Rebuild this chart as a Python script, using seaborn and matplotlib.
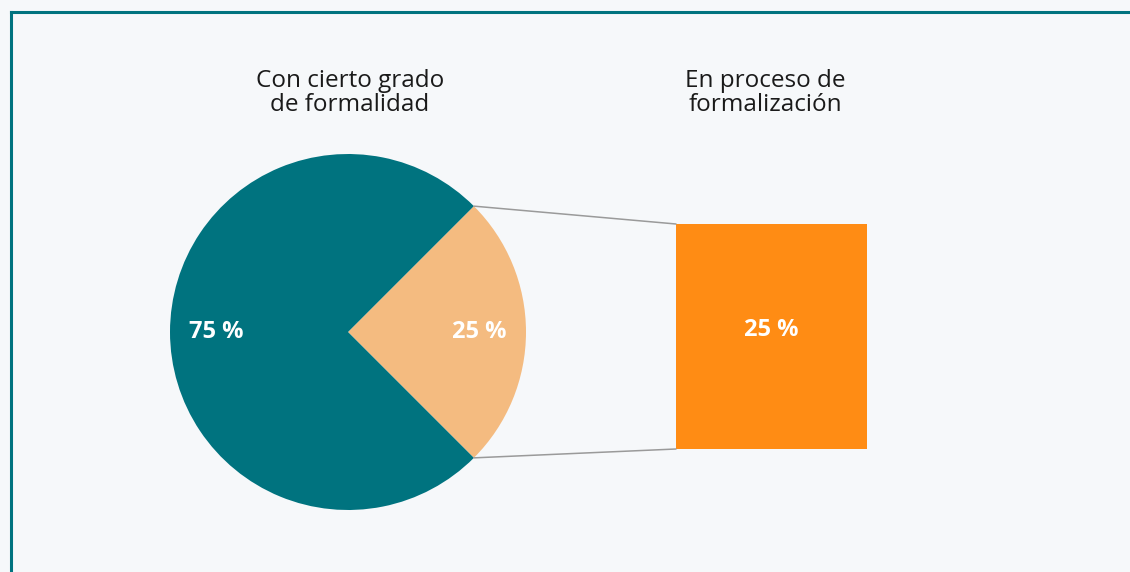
import matplotlib
matplotlib.use("Agg")
import matplotlib.pyplot as plt
from matplotlib.patches import ConnectionPatch
from matplotlib.lines import Line2D
import seaborn as sns
import pandas as pd
import numpy as np

# Data
pie_labels = ["25 %", "75 %"]
pie_values = [25, 75]
bar_category = ["En proceso de formalización"]
bar_values = [25]
titles = ["Con cierto grado\nde formalidad", "En proceso de\nformalización"]

teal = "#00737F"
light_orange = "#F4BB80"
orange = "#FF8C14"
bg = "#F6F8FA"

sns.set_theme(style="white")
plt.rcParams["font.family"] = ["Open Sans", "DejaVu Sans"]

W, H = 1130, 572
fig = plt.figure(figsize=(W / 100, H / 100), dpi=100, facecolor=bg)


def px_axes(x0, y0, x1, y1):
    """Axes placed by pixel box (top-left origin)."""
    return fig.add_axes([x0 / W, 1 - y1 / H, (x1 - x0) / W, (y1 - y0) / H])


# Pie
ax_pie = px_axes(170, 154, 526, 510)
ax_pie.set_facecolor("none")
wedges, texts = ax_pie.pie(
    pie_values,
    colors=[light_orange, teal],
    startangle=-45,
    counterclock=True,
    labels=pie_labels,
    labeldistance=0.74,
    wedgeprops=dict(linewidth=0),
    textprops=dict(color="white", fontsize=17, fontweight="bold", ha="center", va="center"),
)
ax_pie.set_xlim(-1, 1)
ax_pie.set_ylim(-1, 1)
ax_pie.axis("off")

# Bar
ax_bar = px_axes(676, 224, 867, 449)
ax_bar.set_facecolor("none")
df = pd.DataFrame({"cat": bar_category, "val": bar_values})
sns.barplot(data=df, x="cat", y="val", color=orange, width=1.0, saturation=1, ax=ax_bar, linewidth=0)
ax_bar.set_xlim(-0.5, 0.5)
ax_bar.set_ylim(0, bar_values[0])
ax_bar.axis("off")
ax_bar.text(0, bar_values[0] * 0.527, f"{bar_values[0]} %", color="white", fontsize=17,
            fontweight="bold", ha="center", va="center")

# Connectors between the slice and the bar
theta1, theta2 = np.deg2rad(wedges[0].theta1), np.deg2rad(wedges[0].theta2)
for th, yb in [(theta2, bar_values[0]), (theta1, 0)]:
    con = ConnectionPatch(xyA=(np.cos(th), np.sin(th)), coordsA=ax_pie.transData,
                          xyB=(-0.5, yb), coordsB=ax_bar.transData,
                          color="#9A9A9A", linewidth=1.1)
    fig.add_artist(con)

# Titles
fig.text(350 / W, 1 - 93 / H, titles[0], ha="center", va="center", fontsize=17.5,
         color="#1a1a1a", linespacing=1.02)
fig.text(765 / W, 1 - 93 / H, titles[1], ha="center", va="center", fontsize=17.5,
         color="#1a1a1a", linespacing=1.02)

# Frame lines
fig.add_artist(Line2D([10.5 / W, 10.5 / W], [0, 1 - 12 / H], transform=fig.transFigure,
                      color=teal, linewidth=2.2, solid_capstyle="projecting"))
fig.add_artist(Line2D([10.5 / W, 1], [1 - 12 / H, 1 - 12 / H], transform=fig.transFigure,
                      color=teal, linewidth=2.2, solid_capstyle="projecting"))

fig.savefig("out.png", dpi=100, facecolor=bg)
